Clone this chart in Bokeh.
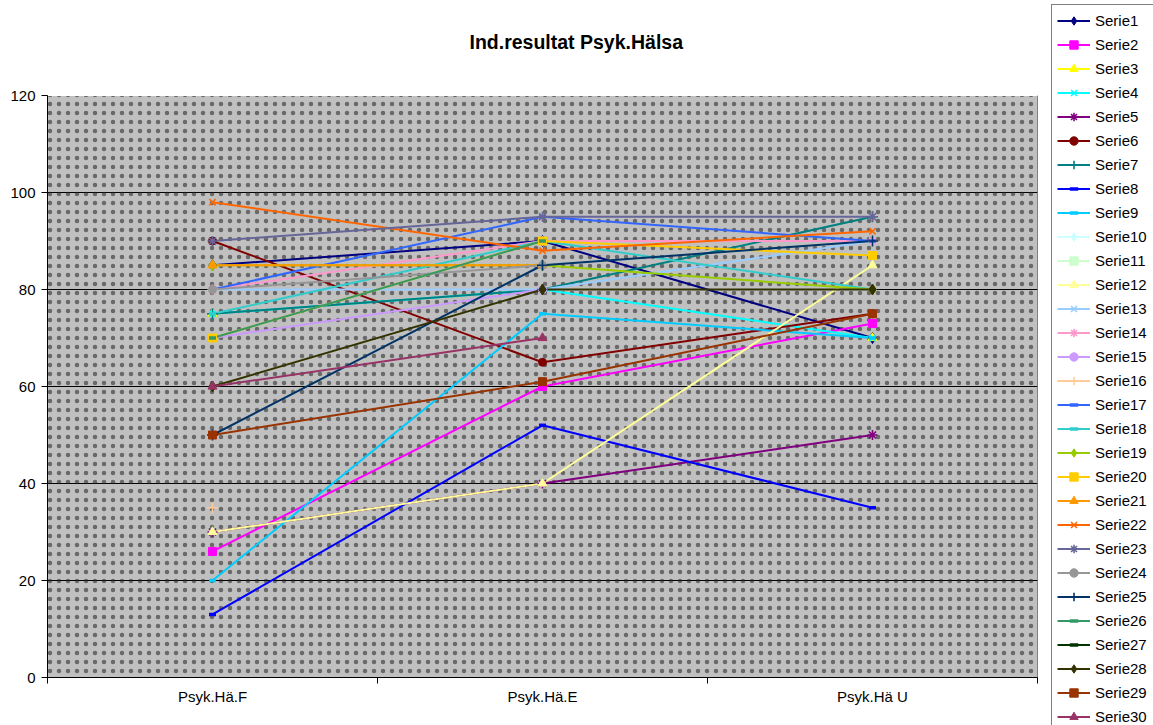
import math
from bokeh.plotting import figure
from bokeh.layouts import row
from bokeh.models import (Range1d, FixedTicker, Legend, LegendItem, BoxAnnotation, Title,
                          LinearAxis)
from bokeh.embed import file_html
from bokeh.resources import INLINE

nan = float("nan")

title_text = "Ind.resultat Psyk.Hälsa"
categories = ["Psyk.Hä.F", "Psyk.Hä.E", "Psyk.Hä U"]
y_ticks = [0, 20, 40, 60, 80, 100, 120]

serie1 = [85, 90, 70]
serie2 = [26, 60, 73]
serie3 = [75, nan, 70]
serie4 = [75, 80, 70]
serie5 = [30, 40, 50]
serie6 = [90, 65, 75]
serie7 = [75, 80, 95]
serie8 = [13, 52, 35]
serie9 = [20, 75, 70]
serie10 = [nan, nan, nan]
serie11 = [nan, nan, nan]
serie12 = [30, 40, 85]
serie13 = [80, 80, 90]
serie14 = [80, 90, 90]
serie15 = [70, 80, nan]
serie16 = [35, nan, nan]
serie17 = [80, 95, 90]
serie18 = [75, 90, 80]
serie19 = [85, 85, 80]
serie20 = [70, 90, 87]
serie21 = [85, 85, nan]
serie22 = [98, 88, 92]
serie23 = [90, 95, 95]
serie24 = [80, 85, nan]
serie25 = [50, 85, 90]
serie26 = [70, 90, nan]
serie27 = [nan, nan, nan]
serie28 = [60, 80, 80]
serie29 = [50, 61, 75]
serie30 = [60, 70, nan]

series = [serie1, serie2, serie3, serie4, serie5, serie6, serie7, serie8, serie9, serie10,
          serie11, serie12, serie13, serie14, serie15, serie16, serie17, serie18, serie19, serie20,
          serie21, serie22, serie23, serie24, serie25, serie26, serie27, serie28, serie29, serie30]
names = ["Serie%d" % (i + 1) for i in range(len(series))]

colors = ["#000080", "#FF00FF", "#FFFF00", "#00FFFF", "#800080", "#800000", "#008080", "#0000FF",
          "#00CCFF", "#CCFFFF", "#CCFFCC", "#FFFF99", "#99CCFF", "#FF99CC", "#CC99FF", "#FFCC99",
          "#3366FF", "#33CCCC", "#99CC00", "#FFCC00", "#FF9900", "#FF6600", "#666699", "#969696",
          "#003366", "#339966", "#003300", "#333300", "#993300", "#993366"]
markers = ["diamond", "square", "triangle", "x", "asterisk", "circle", "cross", "dash",
           "dash", "diamond", "square", "triangle", "x", "asterisk", "circle", "cross",
           "dash", "dash", "diamond", "square", "triangle", "x", "asterisk", "circle",
           "cross", "dash", "dash", "diamond", "square", "triangle"]
marker_size = {"diamond": 11, "square": 8, "triangle": 9, "x": 9, "asterisk": 10,
               "circle": 8, "cross": 11, "dash": 7}

FONT = "Liberation Sans"


def add_series(fig, xs, ys, col):
    return fig.line(xs, ys, line_color=col, line_width=2)


def add_marker(fig, xs, ys, col, mk):
    if mk in ("x", "asterisk", "cross"):
        return fig.scatter(xs, ys, marker=mk, size=marker_size[mk], line_color=col,
                           line_width=1.6, fill_color=None)
    if mk == "dash":
        return fig.scatter(xs, ys, marker=mk, size=marker_size[mk], line_color=col,
                           line_width=3.5, fill_color=None)
    return fig.scatter(xs, ys, marker=mk, size=marker_size[mk], line_color=col,
                       line_width=1, fill_color=col)


# ---------------- main chart ----------------
p = figure(width=1045, height=725, output_backend="svg", toolbar_location=None,
           x_range=Range1d(0, len(categories)), y_range=Range1d(0, 120),
           min_border_left=47, min_border_right=8, min_border_top=95, min_border_bottom=48,
           title_location=None)
p.frame_align = False

# invisible spacer between the plot area and the title (one white tick, empty label)
spacer = LinearAxis(ticker=FixedTicker(ticks=[1.5], minor_ticks=[]),
                    major_label_overrides={1.5: ""},
                    major_label_text_font_size="1px", major_label_text_color="white",
                    axis_line_color="white", major_tick_line_color="white",
                    minor_tick_line_color=None,
                    major_tick_out=38, major_tick_in=0, minor_tick_out=0,
                    major_label_standoff=0)
p.add_layout(spacer, "above")

chart_title = Title(text=title_text, align="left", offset=422, standoff=10,
                    text_font=FONT, text_font_size="19.5px", text_font_style="bold",
                    text_color="black")
p.add_layout(chart_title, "above")

p.background_fill_color = "#C0C0C0"
p.border_fill_color = "white"
p.outline_line_color = "#808080"

dots = BoxAnnotation(fill_alpha=0, line_color=None, hatch_pattern="dot",
                     hatch_color="#202020", hatch_scale=9, hatch_weight=0.5,
                     hatch_alpha=0.55, level="underlay")
p.add_layout(dots)

xpos = [i + 0.5 for i in range(len(categories))]
xaxis = p.below[0]
xaxis.ticker = FixedTicker(ticks=xpos, minor_ticks=list(range(len(categories) + 1)))
xaxis.major_label_overrides = {x: c for x, c in zip(xpos, categories)}
xaxis.major_tick_line_color = None
xaxis.major_tick_out = 0
xaxis.major_tick_in = 0
xaxis.minor_tick_line_color = "black"
xaxis.minor_tick_out = 6
xaxis.minor_tick_in = 0
xaxis.major_label_standoff = 4

yaxis = p.left[0]
yaxis.ticker = FixedTicker(ticks=y_ticks, minor_ticks=[])
yaxis.major_tick_out = 6
yaxis.major_tick_in = 0
yaxis.major_label_standoff = 6
yaxis.minor_tick_line_color = None

for ax in (xaxis, yaxis):
    ax.axis_line_color = "black"
    ax.major_label_text_font = FONT
    ax.major_label_text_font_size = "15px"
    ax.major_label_text_color = "black"

p.xgrid.visible = False
p.ygrid.ticker = FixedTicker(ticks=y_ticks)
p.ygrid.grid_line_color = "black"
p.ygrid.grid_line_width = 1

for vals, col in zip(series, colors):
    add_series(p, xpos, vals, col)
for vals, col, mk in zip(series, colors, markers):
    add_marker(p, xpos, vals, col, mk)

# ---------------- legend panel ----------------
lg = figure(width=108, height=725, output_backend="svg", toolbar_location=None,
            x_range=Range1d(0, 1), y_range=Range1d(0, 1),
            x_axis_location=None, y_axis_location=None,
            min_border_left=0, min_border_right=0, min_border_top=0, min_border_bottom=0)
lg.frame_align = False
lg.outline_line_color = None
lg.xgrid.visible = False
lg.ygrid.visible = False
lg.background_fill_color = "white"
lg.border_fill_color = "white"

items = []
for col, mk, nm in zip(colors, markers, names):
    lr = add_series(lg, [nan], [nan], col)
    sr = add_marker(lg, [nan], [nan], col, mk)
    items.append(LegendItem(label=nm, renderers=[lr, sr]))

legend = Legend(items=items, location=(6, -8), orientation="vertical",
                glyph_width=33, glyph_height=21, label_height=21, label_width=60, spacing=3,
                padding=5, margin=0, label_standoff=5,
                label_text_font=FONT, label_text_font_size="15px", label_text_color="black",
                border_line_color="black", border_line_width=1,
                background_fill_color="white", background_fill_alpha=1)
lg.add_layout(legend, "center")

layout = row(p, lg, spacing=0)
open("out.html", "w").write(file_html(layout, INLINE))
